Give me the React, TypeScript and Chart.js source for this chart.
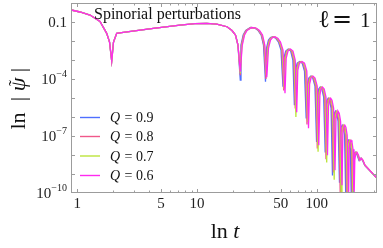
import React, { useEffect, useRef } from "react";
import { Chart, registerables } from "chart.js";

Chart.register(...registerables);

// ---------- data (t, |psi|) ----------
// early part, all four curves coincide here
const earlyT = [0.891, 1.053, 1.277, 1.548, 1.76, 1.86, 1.939, 2.007, 2.134, 2.423, 4.315, 7.21, 9.62, 12.05, 14.61];
const earlyPsi = [0.428, 0.336, 0.233, 0.106, 0.0253, 0.0088, 0.00088, 0.0088, 0.0253, 0.0285, 0.0464, 0.0692, 0.082, 0.0851, 0.0782];

// Q = 0.9
const q09T = [17.81, 19.61, 20.97, 22.0, 23.0,
  23.31, 24.32, 25.52, 27.93, 30.34, 32.46, 34.39, 35.94, 37.35,
  38.08, 39.56, 41.12, 43.15, 45.71, 47.96, 50.33, 52.3,
  53.21, 55.08, 57.78, 60.65, 63.27, 65.12,
  66.52, 68.73, 72.13, 75.67, 79.1, 81.73,
  83.64, 85.92, 89.26, 92.76, 96.78, 99.79,
  101.74, 103.92, 106.95, 110.52, 114.4, 117.75,
  119.58, 121.9, 124.77, 127.91, 131.91, 135.52,
  138.09, 140.85, 143.52, 146.95, 150.96, 155.05,
  157.42, 160.18, 163.32, 166.84, 171.03, 175.4,
  178.16, 180.82, 184.06, 187.58, 191.29, 194.9,
  199.8, 204.8, 210.6, 217.9, 225.4, 233.2, 241.3, 251.9, 320.9];
const q09Psi = [0.0563, 0.0355, 0.0206, 0.00611, 8.7e-5,
  0.00611, 0.0206, 0.0355, 0.0511, 0.0481, 0.0355, 0.0206, 0.00611, 7.1e-5,
  4.25e-3, 0.0112, 0.0152, 0.0167, 0.0135, 8.8e-3, 3.33e-3, 3.9e-5,
  1.26e-3, 2.95e-3, 3.76e-3, 2.95e-3, 9.9e-4, 4.2e-6,
  2.94e-4, 6.87e-4, 8.24e-4, 6.87e-4, 2.6e-4, 8.3e-7,
  5.37e-5, 1.11e-4, 1.42e-4, 1.11e-4, 4.21e-5, 4.9e-8,
  1.41e-5, 2.93e-5, 3.73e-5, 2.93e-5, 1.11e-5, 1.45e-8,
  3.72e-6, 7.7e-6, 9.8e-6, 7.7e-6, 2.92e-6, 8.4e-10,
  7.7e-7, 1.59e-6, 2.03e-6, 1.59e-6, 6.0e-7, 3.5e-10,
  1.4e-7, 2.9e-7, 3.7e-7, 2.9e-7, 1.1e-7, 3e-11,
  2.57e-8, 4.71e-8, 6.0e-8, 4.71e-8, 2.01e-8, 3e-11,
  5.3e-9, 1.24e-8, 1.4e-8, 9.7e-9, 5.3e-9, 6.7e-9, 5.3e-9, 2.88e-9, 5.7e-10];

// Q = 0.8
const q08T = [17.81, 19.61, 20.97, 22.0, 23.0,
  23.49, 24.51, 25.72, 28.15, 30.57, 32.71, 34.65, 36.22, 37.64,
  38.59, 40.09, 41.67, 43.73, 46.33, 48.61, 51.01, 53.01,
  54.03, 55.93, 58.68, 61.58, 64.25, 66.13,
  67.55, 69.79, 73.24, 76.85, 80.32, 82.99,
  84.77, 87.09, 90.48, 94.02, 98.09, 101.14,
  103.31, 105.52, 108.6, 112.23, 116.17, 119.57,
  121.44, 123.79, 126.7, 129.9, 133.96, 137.62,
  140.23, 143.04, 145.75, 149.23, 153.3, 157.46,
  160.17, 162.98, 166.17, 169.75, 174.01, 178.46,
  181.27, 183.98, 187.27, 190.85, 194.62, 198.3,
  202.9, 207.5, 213.2, 220.1, 227.2, 234.9, 242.5, 252.7, 320.9];
const q08Psi = [0.0563, 0.0355, 0.0206, 0.00611, 1.6e-4,
  0.00611, 0.0206, 0.0355, 0.0511, 0.0481, 0.0355, 0.0206, 0.00611, 1.0e-4,
  4.25e-3, 0.0112, 0.0152, 0.0167, 0.0135, 8.8e-3, 3.33e-3, 2.5e-5,
  1.26e-3, 2.95e-3, 3.76e-3, 2.95e-3, 9.9e-4, 2.8e-6,
  2.94e-4, 6.87e-4, 8.24e-4, 6.87e-4, 2.6e-4, 4.0e-7,
  5.37e-5, 1.11e-4, 1.42e-4, 1.11e-4, 4.21e-5, 2.2e-8,
  1.41e-5, 2.93e-5, 3.73e-5, 2.93e-5, 1.11e-5, 6e-9,
  3.72e-6, 7.7e-6, 9.8e-6, 7.7e-6, 2.92e-6, 1.2e-9,
  7.7e-7, 1.59e-6, 2.03e-6, 1.59e-6, 6.0e-7, 5e-11,
  1.4e-7, 2.9e-7, 3.7e-7, 2.9e-7, 1.1e-7, 3e-11,
  2.57e-8, 4.71e-8, 6.0e-8, 4.71e-8, 2.01e-8, 3e-11,
  5.3e-9, 1.24e-8, 1.4e-8, 9.7e-9, 5.3e-9, 6.7e-9, 5.3e-9, 2.88e-9, 5.7e-10];

// Q = 0.7
const q07T = [17.81, 19.61, 20.97, 22.0, 23.0,
  23.72, 24.75, 25.97, 28.42, 30.87, 33.02, 34.99, 36.57, 38.01,
  39.04, 40.56, 42.16, 44.24, 46.86, 49.17, 51.6, 53.62,
  54.77, 56.69, 59.48, 62.42, 65.12, 67.03,
  68.47, 70.74, 74.24, 77.89, 81.41, 84.12,
  86.09, 88.44, 91.88, 95.48, 99.62, 102.71,
  104.71, 106.96, 110.08, 113.75, 117.75, 121.2,
  123.56, 125.95, 128.92, 132.17, 136.3, 140.02,
  142.41, 145.26, 148.01, 151.55, 155.68, 159.9,
  162.65, 165.5, 168.75, 172.38, 176.71, 181.23,
  184.08, 186.83, 190.17, 193.81, 197.64, 201.38,
  205.0, 209.7, 214.9, 221.7, 228.6, 235.9, 243.2, 253.2, 320.9];
const q07Psi = [0.0563, 0.0355, 0.0206, 0.00611, 2.0e-4,
  0.00611, 0.0206, 0.0355, 0.0511, 0.0481, 0.0355, 0.0206, 0.00611, 1.6e-4,
  4.25e-3, 0.0112, 0.0152, 0.0167, 0.0135, 8.8e-3, 3.33e-3, 3.0e-5,
  1.26e-3, 2.95e-3, 3.76e-3, 2.95e-3, 9.9e-4, 1.0e-6,
  2.94e-4, 6.87e-4, 8.24e-4, 6.87e-4, 2.6e-4, 5.4e-7,
  5.37e-5, 1.11e-4, 1.42e-4, 1.11e-4, 4.21e-5, 1.5e-8,
  1.41e-5, 2.93e-5, 3.73e-5, 2.93e-5, 1.11e-5, 4e-9,
  3.72e-6, 7.7e-6, 9.8e-6, 7.7e-6, 2.92e-6, 5e-10,
  7.7e-7, 1.59e-6, 2.03e-6, 1.59e-6, 6.0e-7, 1e-10,
  1.4e-7, 2.9e-7, 3.7e-7, 2.9e-7, 1.1e-7, 3e-11,
  2.57e-8, 4.71e-8, 6.0e-8, 4.71e-8, 2.01e-8, 3e-11,
  5.3e-9, 1.24e-8, 1.4e-8, 9.7e-9, 5.3e-9, 6.7e-9, 5.3e-9, 2.88e-9, 5.7e-10];

// Q = 0.6
const q06T = [17.81, 19.61, 20.97, 22.0, 23.0,
  23.9, 24.94, 26.17, 28.64, 31.11, 33.28, 35.26, 36.85, 38.3,
  39.57, 41.11, 42.73, 44.84, 47.5, 49.84, 52.3, 54.35,
  55.62, 57.57, 60.4, 63.39, 66.13, 68.07,
  69.53, 71.84, 75.39, 79.1, 82.68, 85.43,
  87.26, 89.64, 93.13, 96.78, 100.97, 104.11,
  106.34, 108.62, 111.79, 115.52, 119.58, 123.08,
  125.48, 127.91, 130.92, 134.22, 138.42, 142.2,
  144.9, 147.8, 150.6, 154.2, 158.4, 162.7,
  165.5, 168.4, 171.7, 175.4, 179.8, 184.4,
  187.3, 190.1, 193.5, 197.2, 201.1, 204.9,
  208.1, 212.2, 217.1, 223.5, 230.0, 236.8, 243.7, 253.2, 320.9];
const q06Psi = [0.0563, 0.0355, 0.0206, 0.00611, 2.39e-4,
  0.00611, 0.0206, 0.0355, 0.0511, 0.0481, 0.0355, 0.0206, 0.00611, 1.26e-4,
  4.25e-3, 0.0112, 0.0152, 0.0167, 0.0135, 8.8e-3, 3.33e-3, 1.8e-5,
  1.26e-3, 2.95e-3, 3.76e-3, 2.95e-3, 9.9e-4, 1.8e-6,
  2.94e-4, 6.87e-4, 8.24e-4, 6.87e-4, 2.6e-4, 2.58e-7,
  5.37e-5, 1.11e-4, 1.42e-4, 1.11e-4, 4.21e-5, 3.27e-8,
  1.41e-5, 2.93e-5, 3.73e-5, 2.93e-5, 1.11e-5, 9.7e-9,
  3.72e-6, 7.7e-6, 9.8e-6, 7.7e-6, 2.92e-6, 1.57e-9,
  7.7e-7, 1.59e-6, 2.03e-6, 1.59e-6, 6.0e-7, 2.55e-10,
  1.4e-7, 2.9e-7, 3.7e-7, 2.9e-7, 1.1e-7, 3e-11,
  2.57e-8, 4.71e-8, 6.0e-8, 4.71e-8, 2.01e-8, 3e-11,
  5.3e-9, 1.24e-8, 1.4e-8, 9.7e-9, 5.3e-9, 6.7e-9, 5.3e-9, 2.88e-9, 5.7e-10];

const seriesQ = ["0.9", "0.8", "0.7", "0.6"];
const seriesColors = ["#4f6fff", "#f0588a", "#bce43c", "#ff2af0"];

// axes
const xMin = 0.886;
const xMax = 319;
const yMin = 1e-10;
const yMax = 1;
const xLabelValues = [1, 5, 10, 50, 100];
const xLabelTexts = ["1", "5", "10", "50", "100"];
const xMinorValues = [2, 3, 4, 6, 7, 8, 9, 20, 30, 40, 60, 70, 80, 90, 200, 300];
const yTickValues = [1e-1, 1e-2, 1e-3, 1e-4, 1e-5, 1e-6, 1e-7, 1e-8, 1e-9];
const yLabelValues = [1e-1, 1e-4, 1e-7, 1e-10];
const yLabelBases = ["0.1", "10", "10", "10"];
const yLabelExps = ["", "\u22124", "\u22127", "\u221210"];

const SERIF = '"Liberation Serif", "DejaVu Serif", serif';

const decorPlugin = {
  id: "decor",
  afterDraw(chart: any) {
    const { ctx, chartArea: a, scales } = chart;
    const xs = scales.x;
    const ys = scales.y;
    ctx.save();
    // frame
    ctx.strokeStyle = "#9c9c9c";
    ctx.lineWidth = 1;
    ctx.strokeRect(a.left + 0.5, a.top + 0.5, a.right - a.left - 1, a.bottom - a.top - 1);
    // ticks
    ctx.beginPath();
    const xt = (v: number, len: number) => {
      const px = Math.round(xs.getPixelForValue(v)) + 0.5;
      ctx.moveTo(px, a.bottom);
      ctx.lineTo(px, a.bottom - len);
      ctx.moveTo(px, a.top);
      ctx.lineTo(px, a.top + len);
    };
    xLabelValues.forEach((v) => xt(v, 4));
    xMinorValues.forEach((v) => xt(v, 2.5));
    yTickValues.forEach((v) => {
      const py = Math.round(ys.getPixelForValue(v)) + 0.5;
      ctx.moveTo(a.left, py);
      ctx.lineTo(a.left + 4, py);
      ctx.moveTo(a.right, py);
      ctx.lineTo(a.right - 4, py);
    });
    ctx.stroke();

    // tick labels
    ctx.fillStyle = "#222";
    ctx.textBaseline = "alphabetic";
    ctx.font = `15px ${SERIF}`;
    ctx.textAlign = "center";
    xLabelValues.forEach((v, i) => {
      ctx.fillText(xLabelTexts[i], xs.getPixelForValue(v), 208);
    });
    yLabelValues.forEach((v, i) => {
      const py = ys.getPixelForValue(v);
      const right = 67;
      ctx.textAlign = "right";
      let expW = 0;
      if (yLabelExps[i]) {
        ctx.font = `10px ${SERIF}`;
        expW = ctx.measureText(yLabelExps[i]).width;
        ctx.fillText(yLabelExps[i], right, py - 2);
      }
      ctx.font = `15px ${SERIF}`;
      ctx.fillText(yLabelBases[i], right - expW, py + 5);
    });

    // title
    ctx.fillStyle = "#111";
    ctx.textAlign = "left";
    ctx.font = `16px ${SERIF}`;
    ctx.fillText("Spinorial perturbations", 94, 18.5);

    // l = 1
    ctx.font = `24px "DejaVu Serif", serif`;
    ctx.fillText("\u2113", 318, 26.5);
    ctx.textAlign = "center";
    ctx.fillText("=", 342, 26.5);
    ctx.textAlign = "left";
    ctx.font = `21px ${SERIF}`;
    ctx.fillText("1", 360, 26.5);

    // x title
    ctx.font = `22px ${SERIF}`;
    const lnW = ctx.measureText("ln ").width;
    ctx.font = `italic 22px ${SERIF}`;
    const tW = ctx.measureText("t").width;
    const x0 = 225 - (lnW + tW) / 2;
    ctx.font = `22px ${SERIF}`;
    ctx.fillText("ln ", x0, 238);
    ctx.font = `italic 22px ${SERIF}`;
    ctx.fillText("t", x0 + lnW, 238);

    // y title (rotated)
    ctx.save();
    ctx.translate(25, 0);
    ctx.rotate(-Math.PI / 2);
    ctx.textAlign = "center";
    ctx.font = `22px ${SERIF}`;
    ctx.fillText("ln", -121, 0);
    ctx.fillText("|", -99, 0);
    ctx.fillText("|", -70, 0);
    ctx.font = `italic 22px ${SERIF}`;
    ctx.fillText("\u03C8", -84.5, 0);
    ctx.font = `18px ${SERIF}`;
    ctx.fillText("\u02DC", -83, -3);
    ctx.restore();

    // legend
    seriesQ.forEach((q, i) => {
      const ly = [117.5, 136.5, 156, 175.5][i];
      ctx.strokeStyle = seriesColors[i];
      ctx.lineWidth = 1.4;
      ctx.beginPath();
      ctx.moveTo(80, ly);
      ctx.lineTo(100, ly);
      ctx.stroke();
      ctx.fillStyle = "#111";
      ctx.textAlign = "left";
      ctx.font = `italic 14px ${SERIF}`;
      ctx.fillText("Q", 110, ly + 4.5);
      const qW = ctx.measureText("Q").width;
      ctx.font = `14px ${SERIF}`;
      ctx.fillText(" = " + q, 110 + qW + 1, ly + 4.5);
    });
    ctx.restore();
  },
};

export default function App() {
  const ref = useRef<HTMLCanvasElement>(null);
  useEffect(() => {
    const canvas = ref.current;
    if (!canvas) return;
    const tSets = [q09T, q08T, q07T, q06T];
    const vSets = [q09Psi, q08Psi, q07Psi, q06Psi];
    const datasets = tSets.map((ts, i) => {
      const allT = [...earlyT, ...ts];
      const allV = [...earlyPsi, ...vSets[i]];
      return {
        label: "Q = " + seriesQ[i],
        data: allT.map((t, j) => ({ x: t, y: allV[j] })),
        borderColor: seriesColors[i],
        borderWidth: 1.3,
        pointRadius: 0,
        fill: false,
        tension: 0,
        order: 3 - i,
      };
    });
    const chart = new Chart(canvas, {
      type: "line",
      data: { datasets },
      options: {
        animation: false,
        responsive: true,
        maintainAspectRatio: false,
        devicePixelRatio: 1,
        events: [],
        layout: { padding: { top: 3, right: 6, bottom: 0, left: 0 } },
        plugins: { legend: { display: false }, tooltip: { enabled: false } },
        scales: {
          x: {
            type: "logarithmic",
            min: xMin,
            max: xMax,
            grid: { display: false },
            border: { display: false },
            ticks: { display: false },
            afterFit: (s: any) => {
              s.height = 55;
            },
          },
          y: {
            type: "logarithmic",
            min: yMin,
            max: yMax,
            grid: { display: false },
            border: { display: false },
            ticks: { display: false },
            afterFit: (s: any) => {
              s.width = 71;
            },
          },
        },
      } as any,
      plugins: [decorPlugin],
    });
    return () => chart.destroy();
  }, []);
  return (
    <div style={{ position: "fixed", left: 0, top: 0, width: 383, height: 248, background: "#fff" }}>
      <canvas ref={ref} />
    </div>
  );
}
